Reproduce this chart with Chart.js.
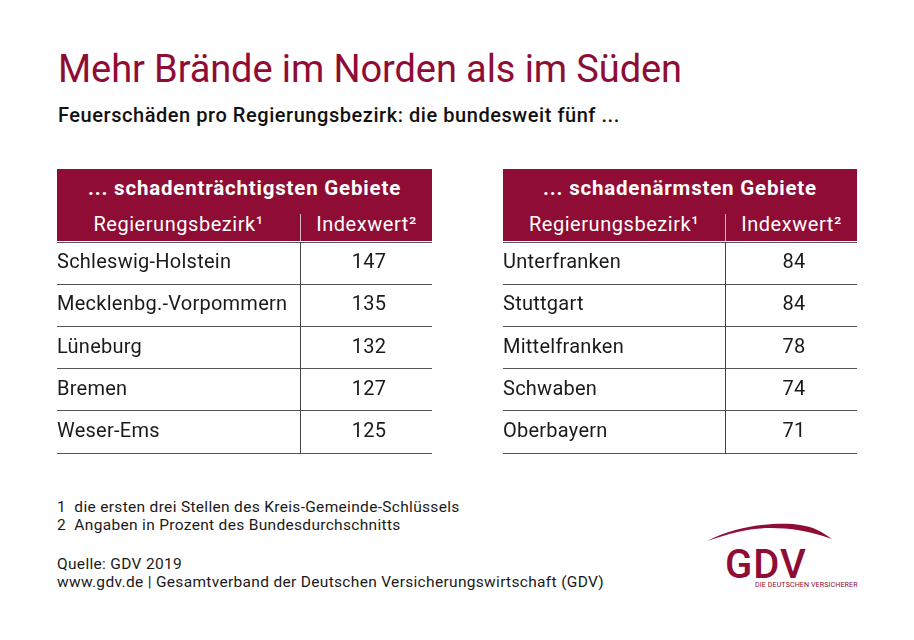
<!DOCTYPE html>
<html lang="de"><head><meta charset="utf-8">
<script src="https://cdn.jsdelivr.net/npm/chart.js@4/dist/chart.umd.min.js"></script>
<style>
html,body{margin:0;padding:0;background:#fff;width:914px;height:640px;overflow:hidden}
body{font-family:Roboto,sans-serif;color:#1a1a1a;position:relative}
.t{position:absolute;white-space:nowrap;line-height:1}
canvas{position:absolute}
.band{position:absolute;background:#8f0c35;top:169px;height:72px}
.vl{position:absolute;width:1px;background:#d9b8c4;top:214px;height:27px}
.h1{top:178px;font-size:20.5px;font-weight:700;color:#fff;text-align:center;letter-spacing:.8px}
.h2{top:214px;font-size:20px;color:#fff;text-align:center;letter-spacing:.55px}
.f{left:57px;font-size:15.5px;letter-spacing:.32px}
</style></head><body>
<div class="t" id="title" style="left:58px;top:50px;font-size:38px;letter-spacing:-.1px;color:#8f0c35">Mehr Brände im Norden als im Süden</div>
<div class="t" style="left:58px;top:105px;font-size:20px;font-weight:500;letter-spacing:.55px;color:#111">Feuerschäden pro Regierungsbezirk: die bundesweit fünf ...</div>

<div class="band" style="left:57px;width:375px"></div>
<div class="band" style="left:503px;width:354px"></div>
<div class="vl" style="left:300px"></div>
<div class="vl" style="left:725px"></div>
<div class="t h1" style="left:57px;width:375px">... schadenträchtigsten Gebiete</div>
<div class="t h1" style="left:503px;width:354px">... schadenärmsten Gebiete</div>
<div class="t h2" style="left:57px;width:243px">Regierungsbezirk¹</div>
<div class="t h2" style="left:301px;width:131px">Indexwert²</div>
<div class="t h2" style="left:503px;width:222px">Regierungsbezirk¹</div>
<div class="t h2" style="left:726px;width:131px">Indexwert²</div>

<canvas id="c1" width="385" height="235" style="left:57px;top:230px"></canvas>
<canvas id="c2" width="364" height="235" style="left:503px;top:230px"></canvas>

<div class="t f" style="top:500px">1&nbsp; die ersten drei Stellen des Kreis-Gemeinde-Schlüssels</div>
<div class="t f" style="top:518px">2&nbsp; Angaben in Prozent des Bundesdurchschnitts</div>
<div class="t f" style="top:557px">Quelle: GDV 2019</div>
<div class="t f" style="top:575px">www.gdv.de | Gesamtverband der Deutschen Versicherungswirtschaft (GDV)</div>

<svg style="position:absolute;left:700px;top:520px" width="170" height="30"><path d="M7 21 C40 3 85 2 100 5 C115 7 122 12 132 19 C110 11 90 8 70 8 C50 8 30 13 7 21 Z" fill="#8f0c35"/></svg>
<div class="t" style="left:725px;top:545px;font-size:40px;font-weight:500;color:#8f0c35;letter-spacing:1px">GDV</div>
<div class="t" style="left:755px;top:581px;font-size:7.1px;color:#8f0c35;letter-spacing:.1px">DIE DEUTSCHEN VERSICHERER</div>

<script>
const regionsTop = ["Schleswig-Holstein","Mecklenbg.-Vorpommern","Lüneburg","Bremen","Weser-Ems"];
const valuesTop = [147,135,132,127,125];
const regionsLow = ["Unterfranken","Stuttgart","Mittelfranken","Schwaben","Oberbayern"];
const valuesLow = [84,84,78,74,71];

const BODY_FONT = {family:'Roboto, sans-serif', size:20};
const tablePlugin = {
  id:'tablePlugin',
  beforeDraw(chart){ chart.ctx.letterSpacing = '0.25px'; },
  afterDraw(chart,args,opts){
    const {ctx,chartArea:a} = chart, y = chart.scales.y;
    const half = (y.getPixelForValue(1)-y.getPixelForValue(0))/2;
    const top = y.getPixelForValue(0)-half, bottom = y.getPixelForValue(chart.data.labels.length-1)+half;
    ctx.save();
    ctx.strokeStyle = '#444'; ctx.lineWidth = 1;
    ctx.beginPath(); ctx.moveTo(opts.divider+.5,top); ctx.lineTo(opts.divider+.5,bottom); ctx.stroke();
    ctx.fillStyle = '#1a1a1a';
    ctx.font = `${BODY_FONT.size}px ${BODY_FONT.family}`;
    ctx.textAlign = 'center'; ctx.textBaseline = 'middle';
    const cx = (opts.divider + a.right)/2 + 3;
    chart.data.datasets[0].data.forEach((v,i)=>ctx.fillText(String(v),cx,y.getPixelForValue(i)));
    ctx.restore();
  }
};
function table(id,labels,values,divider){
  return new Chart(document.getElementById(id),{
    type:'bar',
    data:{labels,datasets:[{data:values,backgroundColor:'rgba(0,0,0,0)',borderWidth:0}]},
    options:{
      indexAxis:'y',responsive:false,animation:false,devicePixelRatio:1,
      layout:{autoPadding:false,padding:{top:5,bottom:5,left:0,right:10}},
      plugins:{legend:{display:false},tooltip:{enabled:false},title:{display:false},tablePlugin:{divider}},
      scales:{
        x:{display:false,min:0,max:200},
        y:{type:'category',
           grid:{offset:true,color:'#555',lineWidth:1,drawTicks:false},
           border:{display:false},
           ticks:{mirror:true,padding:0,color:'#1a1a1a',font:BODY_FONT,autoSkip:false}}
      }
    },
    plugins:[tablePlugin]
  });
}
table('c1',regionsTop,valuesTop,243);
table('c2',regionsLow,valuesLow,222);
</script>
</body></html>
